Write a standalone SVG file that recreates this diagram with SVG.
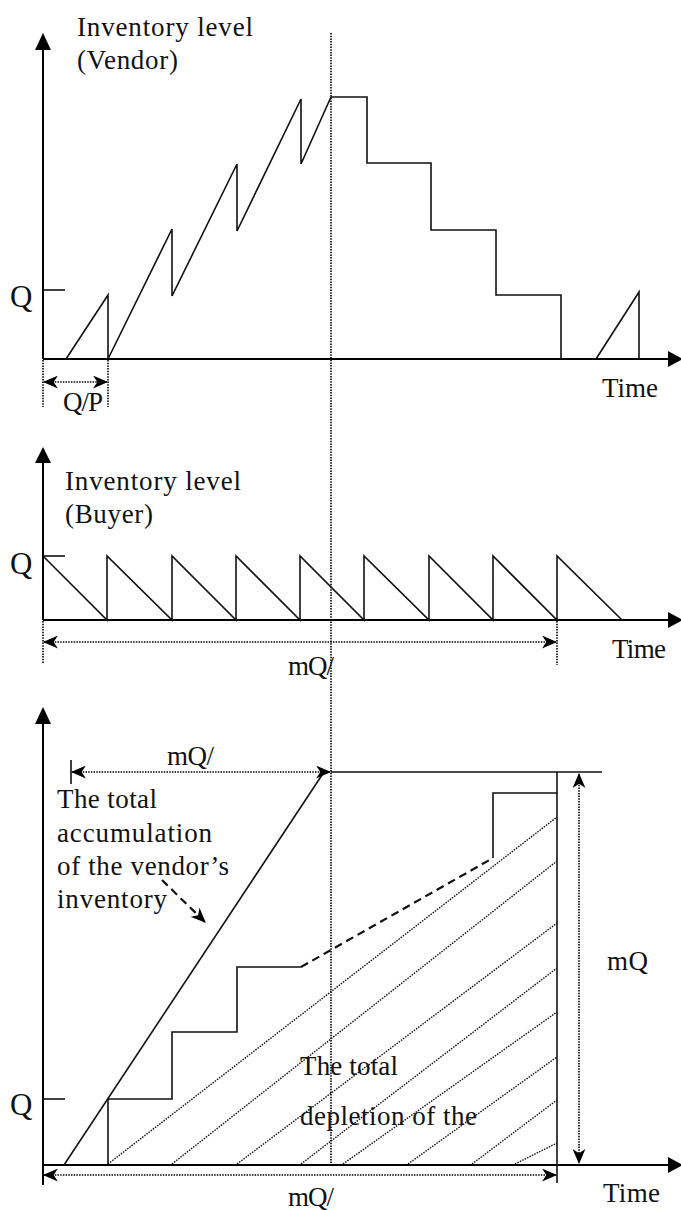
<svg xmlns="http://www.w3.org/2000/svg" width="681" height="1210" viewBox="0 0 681 1210">
<style>
  .ax { stroke:#000; stroke-width:2; fill:none; }
  .ln { stroke:#111; stroke-width:1.6; fill:none; stroke-linejoin:miter; }
  .dot { stroke:#000; stroke-width:1.6; fill:none; stroke-dasharray:1.5 1.2; }
  .hatch { stroke:#111; stroke-width:1.4; fill:none; stroke-dasharray:1.5 1.2; }
  .dash { stroke:#111; stroke-width:2.2; fill:none; stroke-dasharray:8 5; }
  .head { fill:#000; stroke:none; }
  text { font-family:"Liberation Serif","Times New Roman",serif; font-size:27px; fill:#111; }
  .q { font-size:31px; }
</style>
<defs>
  <marker id="ah" viewBox="0 0 14 12" refX="13" refY="6" markerWidth="15" markerHeight="13" markerUnits="userSpaceOnUse" orient="auto-start-reverse">
    <path d="M0,0 L14,6 L0,12 L4,6 Z" fill="#000"/>
  </marker>
</defs>

<!-- long vertical reference line -->
<g id="guide">
  <line class="dot" x1="331" y1="33" x2="331" y2="1163"/>
</g>

<!-- Vendor panel -->
<g id="vendor-panel">
  <line class="ax" x1="43" y1="48" x2="43" y2="359"/>
  <polygon class="head" points="43,33 35,50 51,50"/>
  <line class="ax" x1="43" y1="359" x2="670" y2="359"/>
  <polygon class="head" points="683,359 668,351 668,367"/>
  <line class="ln" x1="43" y1="290" x2="65" y2="290"/>
  <path class="ln" d="M66,359 L108,295 L108,359 L172,229 L172,296 L237,164 L237,231 L301,99 L301,164 L331,97 L367,97 L367,163 L431,163 L431,230 L496,230 L496,295 L561,295 L561,359"/>
  <path class="ln" d="M596,359 L639,292 L639,359"/>
  <line class="dot" x1="43" y1="360" x2="43" y2="407"/>
  <line class="dot" x1="108" y1="360" x2="108" y2="407"/>
  <line class="dot" x1="44" y1="382" x2="107" y2="382" marker-start="url(#ah)" marker-end="url(#ah)"/>
  <text x="77" y="36" textLength="176">Inventory level</text>
  <text x="77" y="69" textLength="101">(Vendor)</text>
  <text class="q" x="10" y="307">Q</text>
  <text x="602" y="397" textLength="56">Time</text>
  <text x="63" y="411" textLength="40">Q/P</text>
</g>

<!-- Buyer panel -->
<g id="buyer-panel">
  <line class="ax" x1="43" y1="461" x2="43" y2="620"/>
  <polygon class="head" points="43,447 35,463 51,463"/>
  <line class="ax" x1="43" y1="620" x2="670" y2="620"/>
  <polygon class="head" points="683,620 668,612 668,628"/>
  <line class="ln" x1="43" y1="556" x2="65" y2="556"/>
  <path class="ln" d="M43,556 L107,620 L107,556 L172,620 L172,556 L236,620 L236,556 L300,620 L300,556 L364,620 L364,556 L429,620 L429,556 L493,620 L493,556 L557,620 L557,556 L622,620"/>
  <line class="dot" x1="43" y1="621" x2="43" y2="663"/>
  <line class="dot" x1="557" y1="621" x2="557" y2="665"/>
  <line class="dot" x1="44" y1="642" x2="556" y2="642" marker-start="url(#ah)" marker-end="url(#ah)"/>
  <text x="65" y="490" textLength="176">Inventory level</text>
  <text x="65" y="523" textLength="88">(Buyer)</text>
  <text class="q" x="10" y="574">Q</text>
  <text x="288" y="675" textLength="46">mQ/</text>
  <text x="612" y="658" textLength="54">Time</text>
</g>

<!-- Cumulative panel -->
<g id="cumulative-panel">
  <line class="ax" x1="43" y1="722" x2="43" y2="1185"/>
  <polygon class="head" points="43,707 35,724 51,724"/>
  <line class="ax" x1="43" y1="1165" x2="670" y2="1165"/>
  <polygon class="head" points="683,1165 668,1157 668,1173"/>
  <line class="ln" x1="43" y1="1099" x2="65" y2="1099"/>
  <line class="ln" x1="64" y1="1165" x2="324" y2="772"/>
  <line class="ln" x1="331" y1="772" x2="602" y2="772"/>
  <path class="ln" d="M108,1165 L108,1099 L172,1099 L172,1032 L237,1032 L237,967 L301,967"/>
  <line class="dash" x1="301" y1="967" x2="493" y2="858"/>
  <path class="ln" d="M493,858 L493,793 L557,793"/>
  <line class="ln" x1="557" y1="772" x2="557" y2="1183"/>
  <g id="hatching">
    <line class="hatch" x1="108" y1="1164" x2="557" y2="817"/>
    <line class="hatch" x1="172" y1="1164" x2="557" y2="861"/>
    <line class="hatch" x1="237" y1="1164" x2="557" y2="923"/>
    <line class="hatch" x1="301" y1="1164" x2="557" y2="968"/>
    <line class="hatch" x1="343" y1="1164" x2="557" y2="1012"/>
    <line class="hatch" x1="408" y1="1164" x2="557" y2="1057"/>
    <line class="hatch" x1="472" y1="1164" x2="557" y2="1100"/>
    <line class="hatch" x1="515" y1="1164" x2="557" y2="1143"/>
  </g>
  <line class="ln" x1="71" y1="760" x2="71" y2="784"/>
  <line class="dot" x1="72" y1="772" x2="330" y2="772" marker-start="url(#ah)" marker-end="url(#ah)"/>
  <line class="dot" x1="579" y1="774" x2="579" y2="1163" marker-start="url(#ah)" marker-end="url(#ah)"/>
  <line class="dot" x1="44" y1="1175" x2="556" y2="1175" marker-start="url(#ah)" marker-end="url(#ah)"/>
  <line class="dash" x1="162" y1="880" x2="205" y2="922" marker-end="url(#ah)"/>
  <text x="167" y="765" textLength="47">mQ/</text>
  <text x="57" y="808" textLength="100">The total</text>
  <text x="57" y="842" textLength="155">accumulation</text>
  <text x="57" y="875" textLength="172">of the vendor’s</text>
  <text x="57" y="908" textLength="110">inventory</text>
  <text x="607" y="970" textLength="41">mQ</text>
  <text x="300" y="1075" textLength="98">The total</text>
  <text x="300" y="1125" textLength="177">depletion of the</text>
  <text class="q" x="10" y="1115">Q</text>
  <text x="288" y="1206" textLength="46">mQ/</text>
  <text x="603" y="1202" textLength="57">Time</text>
</g>
</svg>
